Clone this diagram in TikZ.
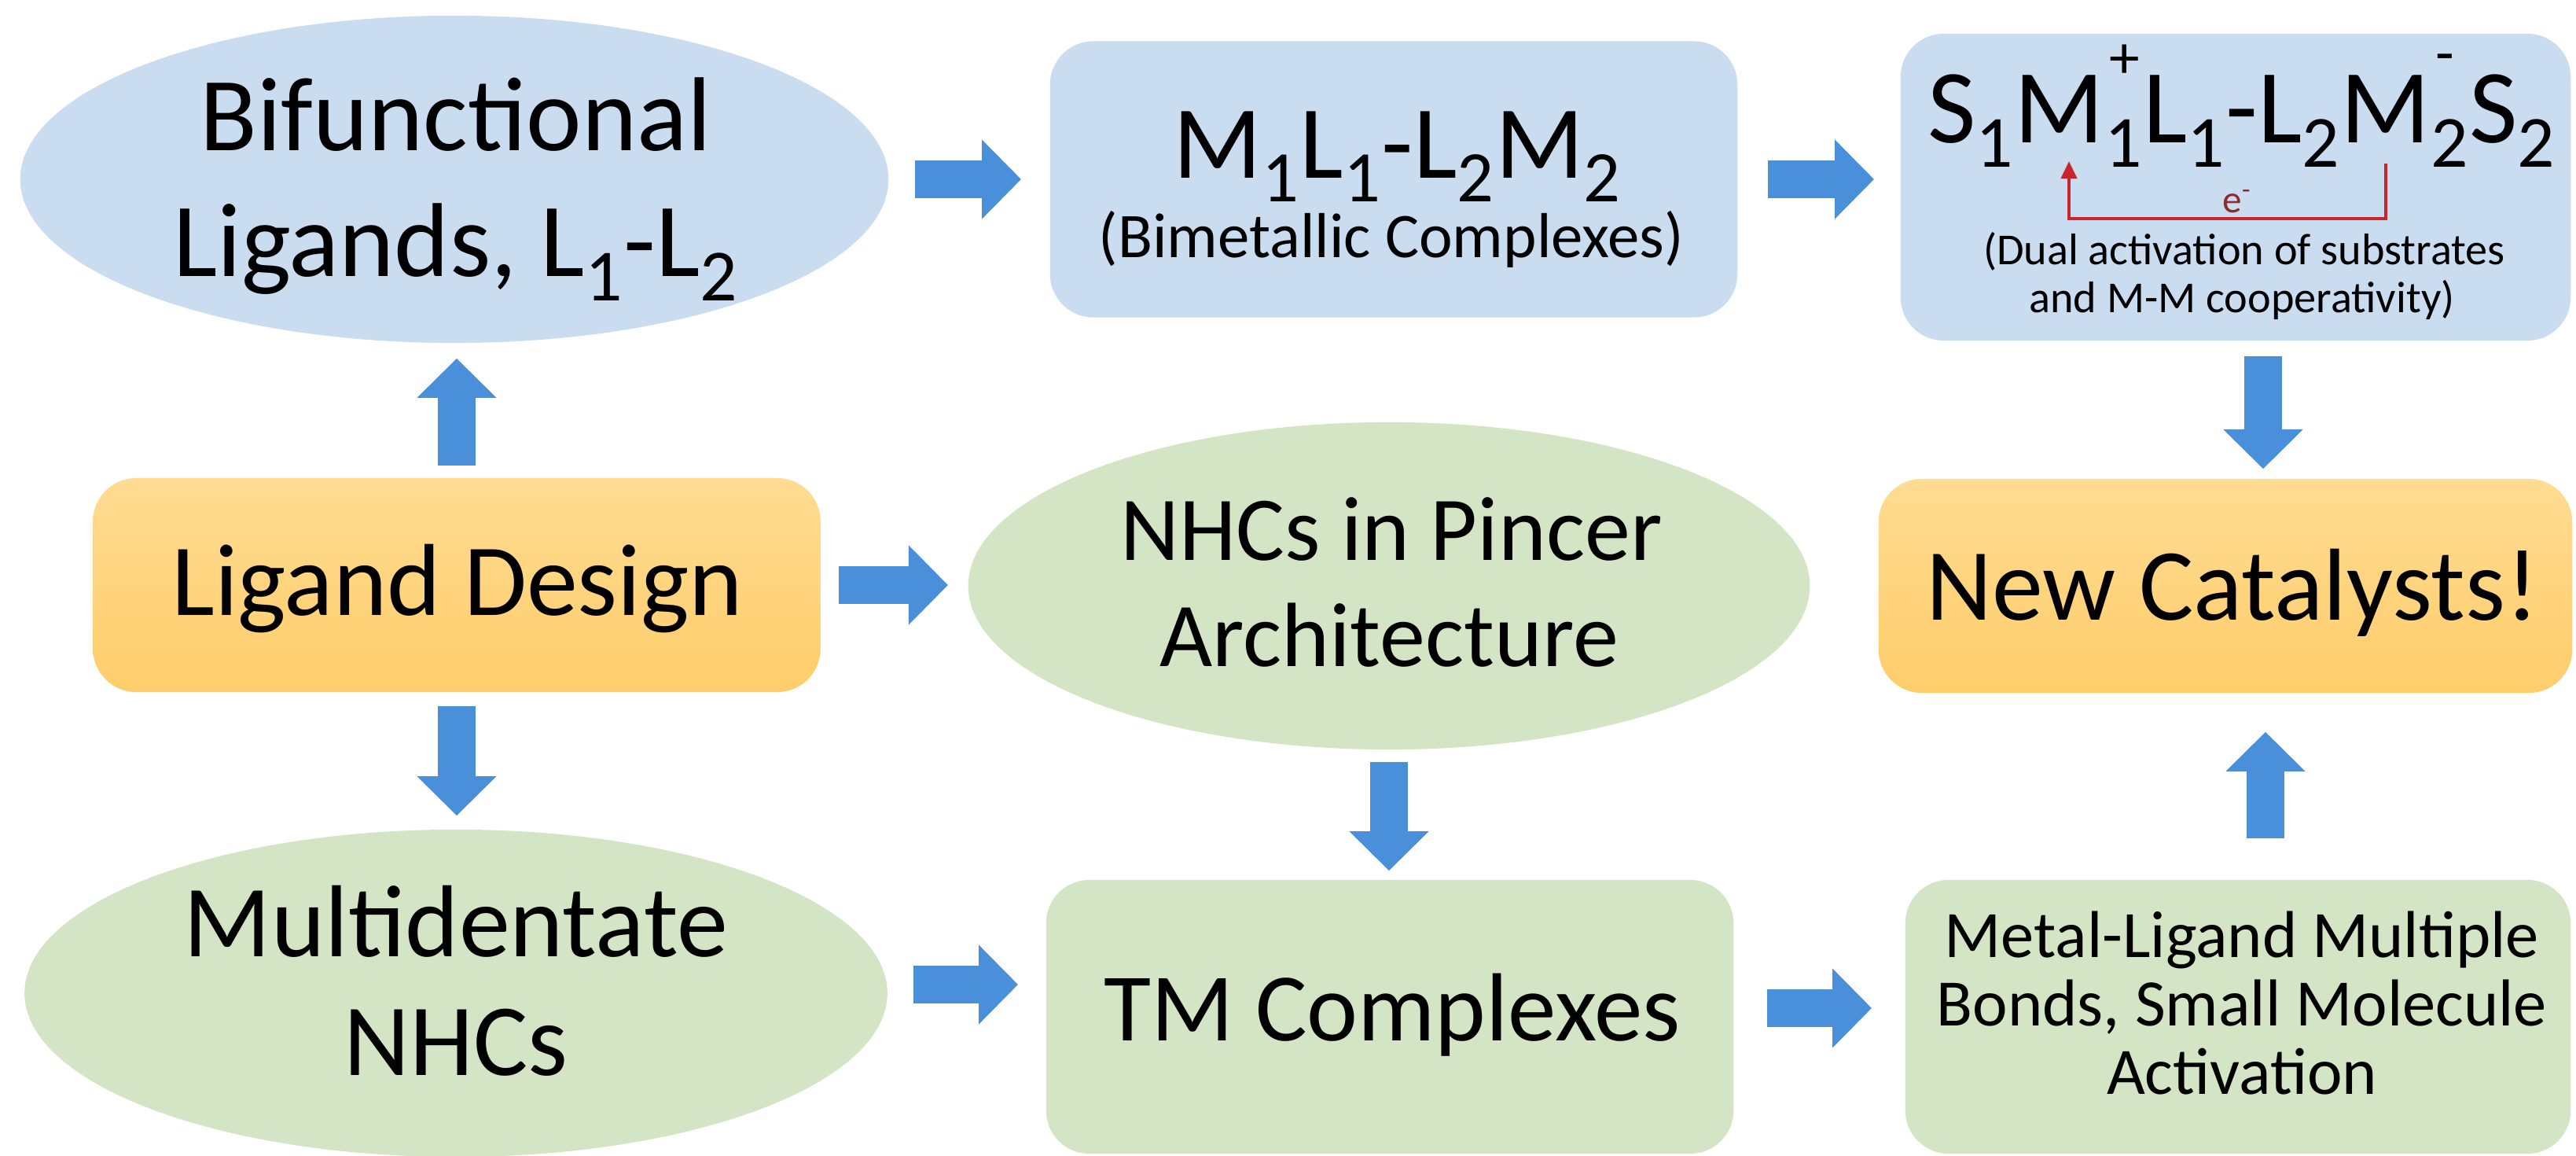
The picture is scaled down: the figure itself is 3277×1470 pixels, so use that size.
\documentclass[tikz,border=0pt]{standalone}
\usepackage{fontspec}
\setmainfont{Carlito}
\usetikzlibrary{arrows.meta,shapes.geometric,calc}
\definecolor{blueL}{HTML}{CADCF0}
\definecolor{greenL}{HTML}{D3E5C4}
\definecolor{orTop}{HTML}{FFDC92}
\definecolor{orBot}{HTML}{FFCD6B}
\definecolor{arrowblue}{HTML}{4A8FDA}
\definecolor{ered}{HTML}{C8262C}
\definecolor{etext}{HTML}{8E2B2B}
\newcommand\sbs[1]{\textsubscript{#1}}
\newcommand\fs[1]{\fontsize{#1}{#1}\selectfont}
\newcommand\chg[2]{\rlap{\hspace{0.05em}\raisebox{#1}{\fontsize{22}{22}\selectfont #2}}}
\begin{document}
\begin{tikzpicture}[x=0.01cm,y=-0.01cm,
  ell/.style={ellipse, inner sep=0pt, draw=none},
  rbox/.style={rectangle, rounded corners=0.55cm, inner sep=0pt, draw=none},
  orbox/.style={rbox, top color=orTop, bottom color=orBot},
  txt/.style={anchor=base, inner sep=0pt, text=black},
  barrow/.style={draw=arrowblue, line width=0.48cm, -{Triangle[length=0.5cm,width=0.98cm]}},
  ebr/.style={draw=ered, line width=0.04cm, -{Triangle[length=0.22cm,width=0.2cm]}}]
\useasboundingbox (0,0) rectangle (3277,1470);
\clip (0,0) rectangle (3277,1470);
\fill[white] (0,0) rectangle (3277,1470);

% shapes
\node[ell, fill=blueL, minimum width=11.04cm, minimum height=4.16cm] (bif) at (578,228) {};
\node[rbox, fill=blueL, minimum width=8.74cm, minimum height=3.51cm] (m1l1) at (1773,228) {};
\node[rbox, fill=blueL, minimum width=8.52cm, minimum height=3.90cm] (s1m1) at (2844,238) {};
\node[orbox, minimum width=9.25cm, minimum height=2.72cm] (ld) at (581,744) {};
\node[ell, fill=greenL, minimum width=10.70cm, minimum height=4.16cm] (nhc) at (1767,745) {};
\node[orbox, minimum width=8.82cm, minimum height=2.72cm] (nc) at (2831,745) {};
\node[ell, fill=greenL, minimum width=10.97cm, minimum height=4.16cm] (multi) at (580,1263) {};
\node[rbox, fill=greenL, minimum width=8.74cm, minimum height=3.48cm] (tm) at (1768,1293) {};
\node[rbox, fill=greenL, minimum width=8.46cm, minimum height=3.48cm] (ml) at (2847,1293) {};

% texts
\node[txt, font=\fs{38}] (bifA) at (580,192) {Bifunctional};
\node[txt, font=\fs{38}] (bifB) at (580,352) {Ligands, L\sbs{1}-L\sbs{2}};
\node[txt, font=\fs{37.5}] (m1l1A) at (1778,227) {M\sbs{1}L\sbs{1}-L\sbs{2}M\sbs{2}};
\node[txt, font=\fs{23}] (m1l1B) at (1770,328) {(Bimetallic Complexes)};
\node[txt, font=\fs{38}] (s1m1A) at (2852,182) {S\sbs{1}M\chg{0.62em}{+}\sbs{1}L\sbs{1}-L\sbs{2}M\chg{0.66em}{-}\sbs{2}S\sbs{2}};
\node[txt, font=\fs{16}] (s1m1B) at (2855,337) {(Dual activation of substrates};
\node[txt, font=\fs{16}] (s1m1C) at (2852,398) {and M-M cooperativity)};
\node[txt, font=\fs{14}, text=etext] (elab) at (2846,271) {e\textsuperscript{-}};
\node[txt, font=\fs{37}] (ldT) at (582,783) {Ligand Design};
\node[txt, font=\fs{33}] (nhcA) at (1770,713) {NHCs in Pincer};
\node[txt, font=\fs{33}] (nhcB) at (1767,847) {Architecture};
\node[txt, font=\fs{37}] (ncT) at (2840,788) {New Catalysts!};
\node[txt, font=\fs{37}] (multiA) at (580,1216) {Multidentate};
\node[txt, font=\fs{37}] (multiB) at (580,1367) {NHCs};
\node[txt, font=\fs{35}] (tmT) at (1771,1323) {TM Complexes};
\node[txt, font=\fs{24}] (mlA) at (2852,1217) {Metal-Ligand Multiple};
\node[txt, font=\fs{24}] (mlB) at (2852,1304) {Bonds, Small Molecule};
\node[txt, font=\fs{24}] (mlC) at (2852,1391) {Activation};

% electron transfer bracket
\coordinate (eR) at (3035,208);
\coordinate (eL) at (2632,205);
\draw[ebr] (eR) -- ++(0,70) -| (eL);

% block arrows
\draw[barrow] ($(bif.east)+(33,0)$) -- ($(m1l1.west)+(-36,0)$);
\draw[barrow] ($(m1l1.east)+(38,0)$) -- ($(m1l1.east -| s1m1.west)+(-33,0)$);
\draw[barrow] ($(ld.north)+(0,-15)$) -- ($(ld.north |- bif.south)+(0,19)$);
\draw[barrow] ($(ld.south)+(0,17)$) -- ($(ld.south |- multi.north)+(0,-17)$);
\draw[barrow] ($(ld.east)+(23,0)$) -- ($(ld.east -| nhc.west)+(-25,0)$);
\draw[barrow] ($(nhc.south)+(0,15)$) -- ($(nhc.south |- tm.north)+(0,-11)$);
\draw[barrow] ($(s1m1.south)+(35,19)$) -- ($(nc.north)+(48,-12)$);
\draw[barrow] ($(ml.north)+(35,-52)$) -- ($(nc.south)+(51,49)$);
\draw[barrow] ($(multi.east)+(32,-11)$) -- ($(tm.west)+(-35,-41)$);
\draw[barrow] ($(tm.east)+(42,-11)$) -- ($(ml.west)+(-42,-11)$);
\end{tikzpicture}
\end{document}
